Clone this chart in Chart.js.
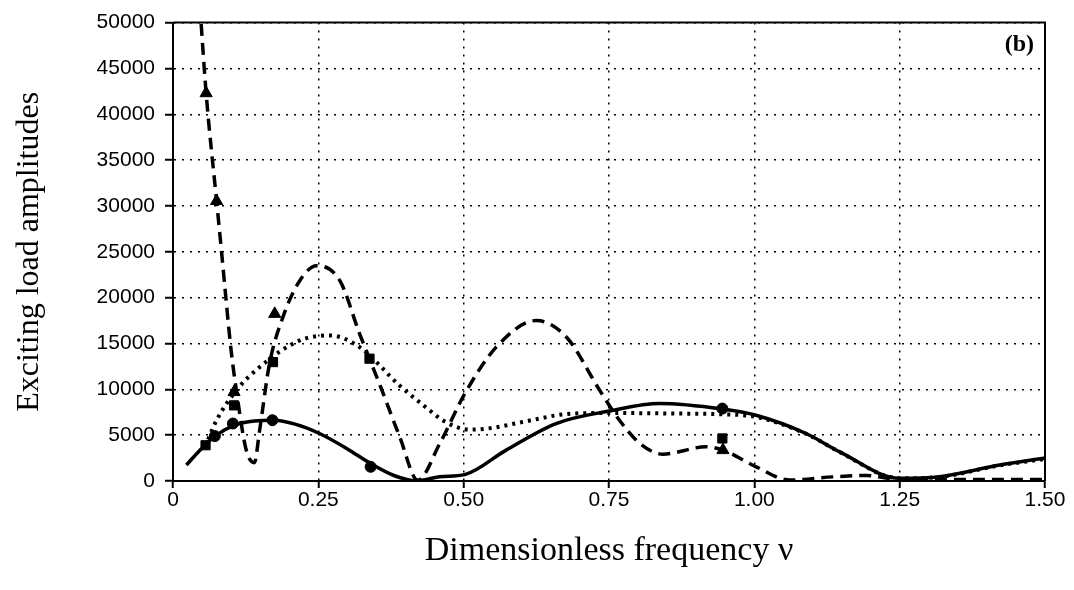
<!DOCTYPE html>
<html lang="en">
<head>
  <meta charset="UTF-8">
  <title>Exciting load amplitudes (b)</title>
  <script src="https://cdn.jsdelivr.net/npm/chart.js"></script>
  <style>
    html, body {
      margin: 0;
      padding: 0;
      background: #ffffff;
    }
    #chartBox {
      width: 1074px;
      height: 590px;
      position: relative;
    }
  </style>
</head>
<body>
  <div id="chartBox">
    <canvas id="loadChart"></canvas>
  </div>

  <script>
    // curves: [nu, amplitude]
    const solidCurve = [
      [0.023, 1740], [0.05, 3600], [0.072, 4900], [0.106, 6100], [0.14, 6550],
      [0.174, 6630], [0.21, 6200], [0.252, 5180], [0.30, 3500], [0.34, 1900],
      [0.38, 600], [0.419, 0], [0.459, 470], [0.502, 700], [0.573, 3370],
      [0.659, 6270], [0.751, 7640], [0.837, 8450], [0.945, 7850], [1.003, 7170],
      [1.089, 5180], [1.147, 3180], [1.25, 290], [1.319, 470], [1.422, 1740],
      [1.5, 2500]
    ];
    const dashedCurve = [
      [0.044, 54000], [0.057, 42300], [0.075, 30540], [0.083, 25330], [0.1, 14240],
      [0.109, 9890], [0.126, 3370], [0.14, 2000], [0.149, 5540], [0.166, 12790],
      [0.189, 17860], [0.218, 21850], [0.247, 23480], [0.287, 21850], [0.321, 16050],
      [0.355, 10620], [0.39, 4820], [0.421, 100], [0.459, 4100], [0.502, 9530],
      [0.556, 14600], [0.625, 17500], [0.677, 15680], [0.734, 9890], [0.768, 6630],
      [0.803, 4100], [0.843, 2930], [0.917, 3730], [0.946, 3370], [1.003, 1550],
      [1.061, 100], [1.135, 450], [1.193, 600], [1.25, 150], [1.365, 150],
      [1.5, 150]
    ];
    const dottedCurve = [
      [0.055, 3730], [0.075, 6630], [0.109, 9890], [0.149, 12420], [0.218, 15330],
      [0.27, 15870], [0.321, 14600], [0.39, 10400], [0.43, 8300], [0.47, 6400],
      [0.51, 5600], [0.55, 5800], [0.602, 6450], [0.688, 7360], [0.757, 7420],
      [0.86, 7360], [0.945, 7280], [1.003, 6990], [1.089, 5150], [1.147, 3150],
      [1.25, 300], [1.319, 450], [1.422, 1700], [1.5, 2400]
    ];

    // computed points (markers)
    const trianglePoints = [[0.057, 42300], [0.075, 30540], [0.105, 9700], [0.175, 18230], [0.946, 3370]];
    const squarePoints = [[0.056, 3900], [0.105, 8250], [0.172, 12970], [0.338, 13340], [0.945, 4640]];
    const circlePoints = [[0.072, 4900], [0.103, 6270], [0.171, 6630], [0.34, 1550], [0.945, 7900]];

    const xTicks = [0, 0.25, 0.5, 0.75, 1.0, 1.25, 1.5];
    const yTicks = [0, 5000, 10000, 15000, 20000, 25000, 30000, 35000, 40000, 45000, 50000];

    const toXY = arr => arr.map(p => ({ x: p[0], y: p[1] }));

    const serif = '"Times New Roman", "Liberation Serif", serif';
    const sans = 'Arial, "Liberation Sans", sans-serif';

    // top / right frame and the (b) tag
    const framePlugin = {
      id: 'framePlugin',
      afterDraw: (chart) => {
        const ctx = chart.ctx;
        const a = chart.chartArea;
        ctx.save();
        ctx.strokeStyle = '#000';
        ctx.lineWidth = 2;
        ctx.beginPath();
        ctx.moveTo(a.left, a.top);
        ctx.lineTo(a.right, a.top);
        ctx.lineTo(a.right, a.bottom);
        ctx.stroke();
        ctx.fillStyle = '#000';
        ctx.font = 'bold 24px ' + serif;
        ctx.textAlign = 'right';
        ctx.textBaseline = 'middle';
        ctx.fillText('(b)', a.right - 11, a.top + 22);
        ctx.restore();
      }
    };

    const ctx = document.getElementById('loadChart').getContext('2d');
    const loadChart = new Chart(ctx, {
      type: 'scatter',
      data: {
        datasets: [
          {
            label: 'solid',
            data: toXY(solidCurve),
            showLine: true,
            borderColor: '#000',
            borderWidth: 3.5,
            pointRadius: 0,
            cubicInterpolationMode: 'monotone'
          },
          {
            label: 'dashed',
            data: toXY(dashedCurve),
            showLine: true,
            borderColor: '#000',
            borderWidth: 3.5,
            borderDash: [12, 7],
            pointRadius: 0,
            cubicInterpolationMode: 'monotone'
          },
          {
            label: 'dotted',
            data: toXY(dottedCurve),
            showLine: true,
            borderColor: '#000',
            borderWidth: 4,
            borderDash: [3, 5],
            pointRadius: 0,
            cubicInterpolationMode: 'monotone'
          },
          {
            label: 'triangles',
            data: toXY(trianglePoints),
            pointStyle: 'triangle',
            pointRadius: 7,
            backgroundColor: '#000',
            borderColor: '#000',
            borderWidth: 1
          },
          {
            label: 'squares',
            data: toXY(squarePoints),
            pointStyle: 'rect',
            pointRadius: 6.5,
            backgroundColor: '#000',
            borderColor: '#000',
            borderWidth: 1
          },
          {
            label: 'circles',
            data: toXY(circlePoints),
            pointStyle: 'circle',
            pointRadius: 5.5,
            backgroundColor: '#000',
            borderColor: '#000',
            borderWidth: 1
          }
        ]
      },
      options: {
        responsive: true,
        maintainAspectRatio: false,
        animation: false,
        layout: {
          padding: { top: 21, right: 29, bottom: 0, left: 0 }
        },
        plugins: {
          legend: { display: false },
          tooltip: { enabled: false }
        },
        scales: {
          x: {
            type: 'linear',
            min: 0,
            max: 1.5,
            afterFit: (scale) => { scale.height = 109; },
            afterBuildTicks: (scale) => { scale.ticks = xTicks.map(v => ({ value: v })); },
            ticks: {
              color: '#000',
              padding: 0,
              maxRotation: 0,
              font: { family: sans, size: 21 },
              callback: (v) => v === 0 ? '0' : v.toFixed(2)
            },
            grid: {
              color: '#000',
              lineWidth: 1.5,
              tickLength: 7,
              tickWidth: 2,
              tickColor: '#000'
            },
            border: { display: true, color: '#000', width: 2, dash: [2, 6] },
            title: {
              display: true,
              text: 'Dimensionless frequency ν',
              color: '#000',
              font: { family: serif, size: 34, lineHeight: 1 },
              padding: { top: 0, bottom: 22 }
            }
          },
          y: {
            type: 'linear',
            min: 0,
            max: 50000,
            afterFit: (scale) => { scale.width = 173; },
            afterBuildTicks: (scale) => { scale.ticks = yTicks.map(v => ({ value: v })); },
            ticks: {
              color: '#000',
              padding: 10,
              font: { family: sans, size: 21 },
              callback: (v) => String(v)
            },
            grid: {
              color: '#000',
              lineWidth: 1.5,
              tickLength: 8,
              tickWidth: 2,
              tickColor: '#000'
            },
            border: { display: true, color: '#000', width: 2, dash: [2, 6] },
            title: {
              display: true,
              text: 'Exciting load amplitudes',
              color: '#000',
              font: { family: serif, size: 32, lineHeight: 1 },
              padding: { top: 14, bottom: 0 }
            }
          }
        }
      },
      plugins: [framePlugin]
    });
  </script>
</body>
</html>
